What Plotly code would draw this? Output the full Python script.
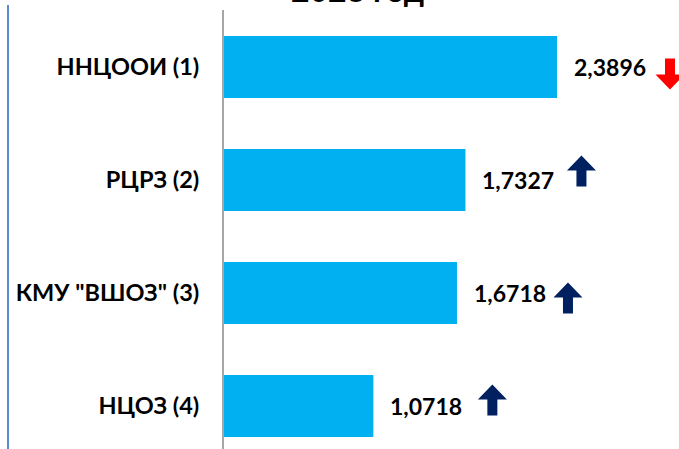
import plotly.graph_objects as go

# ---- data ----
categories = ["ННЦООИ (1)", "РЦРЗ (2)", "КМУ \"ВШОЗ\" (3)", "НЦОЗ (4)"]
values = [2.3896, 1.7327, 1.6718, 1.0718]
trend = ["down", "up", "up", "up"]
title_text = "2023 год"

# ---- layout constants ----
W, H = 679, 449
ML, MR, MT, MB = 224, 0, 10, 0
PX_PER_UNIT = 139.35
PX_PER_CAT = 113.0
plot_w = W - ML - MR
plot_h = H - MT - MB
x_max = plot_w / PX_PER_UNIT
n = len(categories)
ypos = [n - 1 - i for i in range(n)]          # top category first
y_top = (n - 1) + 57 / PX_PER_CAT
y_bot = y_top - plot_h / PX_PER_CAT

BAR_COLOR = "#00B0F0"
UP_COLOR = "#002060"
DOWN_COLOR = "#FF0000"
FONT = "Lato"

labels = [f"{v:.4f}".replace(".", ",") for v in values]

fig = go.Figure(go.Bar(
    x=values, y=ypos, orientation="h", width=0.55,
    marker=dict(color=BAR_COLOR, line=dict(width=0)),
    hoverinfo="skip",
))

annotations = []
for v, y, lab in zip(values, ypos, labels):
    annotations.append(dict(
        x=v, y=y, xref="x", yref="y", text=lab, showarrow=False,
        xanchor="left", yanchor="middle", xshift=15,
        font=dict(family=FONT, size=23, color="#000000", weight=700),
    ))

annotations.append(dict(
    x=(357 - ML) / plot_w, y=1, xref="paper", yref="paper", text=title_text,
    showarrow=False, xanchor="center", yanchor="bottom", yshift=-1,
    font=dict(family=FONT, size=32, color="#000000", weight=700),
))

# arrow decorations (pixel offsets from bar end / bar centre)
arrow_dx = [113, 116, 111, 119]
arrow_dy = [-7, 9, -5, 6]
shapes = []
for v, y, t, dx, dy in zip(values, ypos, trend, arrow_dx, arrow_dy):
    hw, sw, hh, th = 14.5, 5, 15, 31
    half = th / 2
    if t == "up":
        pts = [(0, half), (hw, half - hh), (sw, half - hh), (sw, -half),
               (-sw, -half), (-sw, half - hh), (-hw, half - hh)]
        col = UP_COLOR
    else:
        pts = [(0, -half), (hw, -half + hh), (sw, -half + hh), (sw, half),
               (-sw, half), (-sw, -half + hh), (-hw, -half + hh)]
        col = DOWN_COLOR
    path = "M " + " L ".join(f"{px + dx},{py + dy}" for px, py in pts) + " Z"
    shapes.append(dict(
        type="path", xref="x", yref="y", xsizemode="pixel", ysizemode="pixel",
        xanchor=v, yanchor=y, path=path, fillcolor=col,
        line=dict(width=0), layer="above",
    ))

# left blue border line
shapes.append(dict(
    type="line", xref="paper", yref="paper",
    x0=(8 - ML) / plot_w, x1=(8 - ML) / plot_w,
    y0=-0.01, y1=1 + 5 / plot_h,
    line=dict(color="#5A8AD0", width=2),
))

fig.update_layout(
    width=W, height=H,
    margin=dict(l=ML, r=MR, t=MT, b=MB, pad=0),
    paper_bgcolor="white", plot_bgcolor="white",
    showlegend=False,
    xaxis=dict(range=[0, x_max], visible=False, fixedrange=True),
    yaxis=dict(
        range=[y_bot, y_top], tickmode="array", tickvals=ypos, ticktext=categories,
        showgrid=False, zeroline=False, showline=True, linecolor="#A6A6A6",
        linewidth=2, ticks="", ticklabelstandoff=18, automargin=False,
        tickfont=dict(family=FONT, size=23.5, color="#000000", weight=700),
        fixedrange=True,
    ),
    annotations=annotations, shapes=shapes,
)

fig.write_html(
    "out.html",
    config={"displayModeBar": False},
    post_script="document.body.style.margin='0';document.body.style.overflow='hidden';",
)
